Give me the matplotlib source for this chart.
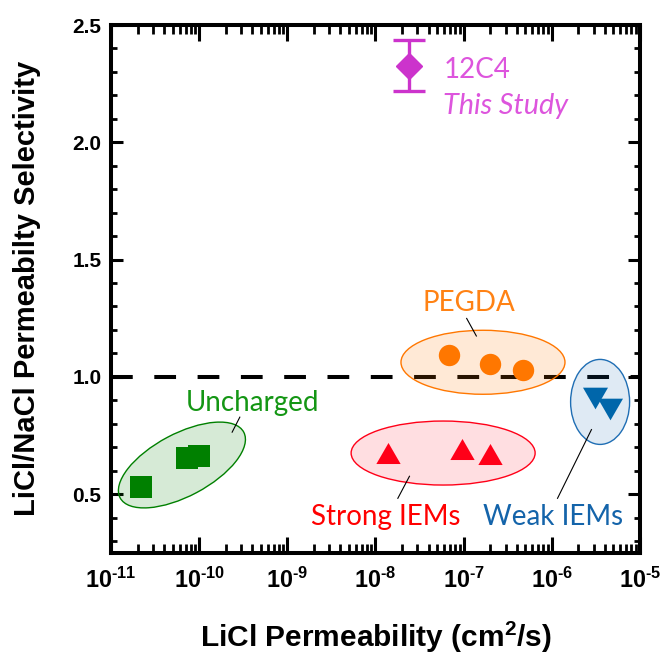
import numpy as np
import matplotlib.pyplot as plt
from matplotlib.patches import Ellipse
from matplotlib.ticker import MultipleLocator, FixedLocator
from matplotlib.transforms import ScaledTranslation
from matplotlib.colors import to_rgb

plt.rcParams['mathtext.fontset'] = 'custom'
plt.rcParams['mathtext.bf'] = 'Liberation Sans:bold'
plt.rcParams['mathtext.rm'] = 'Liberation Sans:bold'

# LiCl permeability (cm2/s) and LiCl/NaCl selectivity
uncharged_p = [2.2e-11, 7.3e-11, 9.9e-11]
uncharged_s = [0.531, 0.655, 0.662]
strong_p = [1.4e-8, 9.5e-8, 2.0e-7]
strong_s = [0.675, 0.692, 0.672]
pegda_p = [6.9e-8, 1.97e-7, 4.7e-7]
pegda_s = [1.093, 1.056, 1.031]
weak_p = [3.1e-6, 4.6e-6]
weak_s = [0.911, 0.861]
study_p = [2.4e-8]
study_s = [2.326]
study_err = [0.108]

x_exponents = [-11, -10, -9, -8, -7, -6, -5]
y_ticks = [0.5, 1.0, 1.5, 2.0, 2.5]

GREEN, ORANGE, RED, BLUE, MAGENTA = '#008000', '#FF7700', '#FF0018', '#0066AA', '#CC33CC'
TXT_FONT = ['Lato', 'DejaVu Sans']

fig = plt.figure(figsize=(6.61, 6.58), dpi=100)
ax = fig.add_axes([0.168, 0.160, 0.800, 0.802])
ax.set_xscale('log')
ax.set_xlim(1e-11, 1e-5)
ax.set_ylim(0.25, 2.5)

# reference line at selectivity = 1
ax.axhline(1.0, color='black', lw=2.9, dashes=(5.4, 5.35), zorder=1)


def group_ellipse(x, y, w_px, h_px, angle, color, alpha):
    # ellipse sized in pixels, centred on a data point
    trans = fig.dpi_scale_trans + ScaledTranslation(x, y, ax.transData)
    e = Ellipse((0, 0), w_px / fig.dpi, h_px / fig.dpi, angle=angle,
                transform=trans, facecolor=(*to_rgb(color), alpha),
                edgecolor=color, lw=1.0, zorder=2)
    ax.add_patch(e)


group_ellipse(6.37e-11, 0.624, 140, 62.5, 28, GREEN, 0.16)
group_ellipse(1.66e-7, 1.062, 164, 64, 0, ORANGE, 0.16)
group_ellipse(5.86e-8, 0.675, 184, 64, 0, RED, 0.13)
group_ellipse(3.54e-6, 0.893, 59, 85, 0, '#1F6EB4', 0.14)

tri_up = [(0, 0.75), (-0.866, -0.75), (0.866, -0.75)]
tri_dn = [(0, -0.75), (-0.866, 0.75), (0.866, 0.75)]

ax.plot(uncharged_p, uncharged_s, 's', color=GREEN, ms=15.6, mew=0, zorder=3)
ax.plot(strong_p, strong_s, marker=tri_up, ls='none', color=RED, ms=17.5, mew=0, zorder=3)
ax.plot(pegda_p, pegda_s, 'o', color=ORANGE, ms=15.4, mew=0, zorder=3)
ax.plot(weak_p, weak_s, marker=tri_dn, ls='none', color=BLUE, ms=18, mew=0, zorder=3)
ax.errorbar(study_p, study_s, yerr=study_err, fmt='D', color=MAGENTA, ms=13,
            elinewidth=2.4, capsize=11.5, capthick=2.4, zorder=3)

# group labels with leader lines
ax.text(3.98e-10, 0.856, 'Uncharged', color='#149614', fontsize=20,
        family=TXT_FONT, ha='center', va='baseline')
ax.plot([10**-9.539, 10**-9.626], [0.828, 0.764], color='black', lw=0.8)
ax.text(1.14e-7, 1.28, 'PEGDA', color='#FF8214', fontsize=20,
        family=TXT_FONT, ha='center', va='baseline')
ax.plot([10**-6.965, 10**-6.855], [1.249, 1.174], color='black', lw=0.8)
ax.text(1.3e-8, 0.37, 'Strong IEMs', color='#FF0000', fontsize=20,
        family=TXT_FONT, ha='center', va='baseline')
ax.plot([10**-7.614, 10**-7.746], [0.576, 0.482], color='black', lw=0.8)
ax.text(1.04e-6, 0.37, 'Weak IEMs', color='#1464AA', fontsize=20,
        family=TXT_FONT, ha='center', va='baseline')
ax.plot([10**-5.549, 10**-5.934], [0.775, 0.482], color='black', lw=0.8)
ax.text(5.9e-8, 2.275, '12C4', color='#DD55DD', fontsize=20,
        family=TXT_FONT, ha='left', va='baseline')
ax.text(5.9e-8, 2.119, 'This Study', color='#DD55DD', fontsize=20.8,
        family=TXT_FONT, style='italic', ha='left', va='baseline')

# axes styling
for s in ax.spines.values():
    s.set_linewidth(2.9)
ax.tick_params(which='both', direction='in', top=True, right=True)
ax.tick_params(axis='x', which='major', length=11.5, width=2.2, pad=11)
ax.tick_params(axis='x', which='minor', length=6.2, width=2.0)
ax.tick_params(axis='y', which='major', length=8.6, width=2.2, pad=7)
ax.tick_params(axis='y', which='minor', length=4.3, width=2.0)

ax.xaxis.set_major_locator(FixedLocator([10.0**e for e in x_exponents]))
ax.set_xticklabels([rf'$\mathbf{{10}}^{{\text{{-}}\mathbf{{{abs(e)}}}}}$' for e in x_exponents],
                   fontsize=16.8)
ax.set_yticks(y_ticks)
ax.set_yticklabels([f'{v:.1f}' for v in y_ticks], fontsize=15,
                   family='Liberation Sans', fontweight='bold')
ax.yaxis.set_minor_locator(MultipleLocator(0.1))

ax.set_xlabel('LiCl Permeability (cm$^{\\mathbf{2}}$/s)', fontsize=21.5,
              family='Liberation Sans', fontweight='bold')
ax.set_ylabel('LiCl/NaCl Permeabilty Selectivity', fontsize=21,
              family='Liberation Sans', fontweight='bold')
ax.xaxis.set_label_coords(0.5, -0.125)
ax.yaxis.set_label_coords(-0.132, 0.5)

fig.savefig('out.png', dpi=100)
